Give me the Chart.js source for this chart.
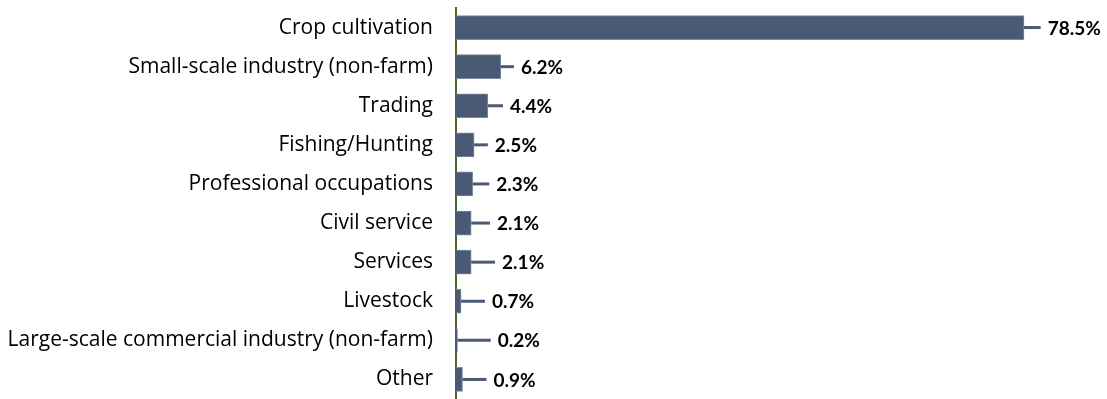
<!DOCTYPE html>
<html>
<head>
    <title>Main household activity</title>
    <style>
        body { margin: 0; background: #ffffff; }
        #wrap { position: relative; width: 1107px; height: 399px; }
    </style>
</head>
<body>
    <div id="wrap"><canvas id="activityChart"></canvas></div>
    <script src="https://cdn.jsdelivr.net/npm/chart.js@4/dist/chart.umd.min.js"></script>
    <script>
        // Categorias e valores (%)
        const categories = [
            'Crop cultivation',
            'Small-scale industry (non-farm)',
            'Trading',
            'Fishing/Hunting',
            'Professional occupations',
            'Civil service',
            'Services',
            'Livestock',
            'Large-scale commercial industry (non-farm)',
            'Other'
        ];
        const shares = [78.5, 6.2, 4.4, 2.5, 2.3, 2.1, 2.1, 0.7, 0.2, 0.9];
        // margem de erro (só o lado positivo é desenhado)
        const errorPlus = [2.3, 1.8, 2.1, 1.9, 2.3, 2.6, 3.3, 3.3, 4.6, 3.3];

        const barColor = '#4a5a74';

        // Barras de erro + rótulos de valor
        const errorBarsPlugin = {
            id: 'errorBars',
            afterDatasetsDraw(chart) {
                const ctx = chart.ctx;
                const xs = chart.scales.x;
                const meta = chart.getDatasetMeta(0);
                ctx.save();
                meta.data.forEach((bar, i) => {
                    const x0 = xs.getPixelForValue(shares[i]);
                    const x1 = xs.getPixelForValue(shares[i] + errorPlus[i]);
                    ctx.strokeStyle = barColor;
                    ctx.lineWidth = 3;
                    ctx.beginPath();
                    ctx.moveTo(x0, bar.y);
                    ctx.lineTo(x1, bar.y);
                    ctx.stroke();

                    ctx.fillStyle = '#000000';
                    ctx.font = 'bold 19px Lato';
                    ctx.textAlign = 'left';
                    ctx.textBaseline = 'middle';
                    ctx.fillText(shares[i].toFixed(1) + '%', x1 + 7, bar.y + 1);
                });
                ctx.restore();
            }
        };

        const ctx = document.getElementById('activityChart').getContext('2d');
        const chart = new Chart(ctx, {
            type: 'bar',
            data: {
                labels: categories,
                datasets: [{
                    data: shares,
                    backgroundColor: barColor,
                    borderColor: '#7d8ba1',
                    borderWidth: 1,
                    barThickness: 24
                }]
            },
            options: {
                indexAxis: 'y',
                responsive: true,
                maintainAspectRatio: false,
                animation: false,
                layout: { padding: { top: 8, right: 7, bottom: 0, left: 0 } },
                plugins: {
                    legend: { display: false },
                    tooltip: { enabled: false }
                },
                scales: {
                    x: {
                        display: false,
                        min: 0,
                        max: 89
                    },
                    y: {
                        // largura fixa e sem folga extra em cima/baixo
                        afterFit: (scale) => {
                            scale.width = 456;
                            scale.paddingTop = 0;
                            scale.paddingBottom = 0;
                        },
                        grid: { display: false, drawTicks: false },
                        border: { display: true, color: '#4b6a26', width: 2 },
                        ticks: {
                            color: '#000000',
                            padding: 23,
                            font: { family: 'Open Sans', size: 21 }
                        }
                    }
                }
            },
            plugins: [errorBarsPlugin]
        });
    </script>
</body>
</html>
